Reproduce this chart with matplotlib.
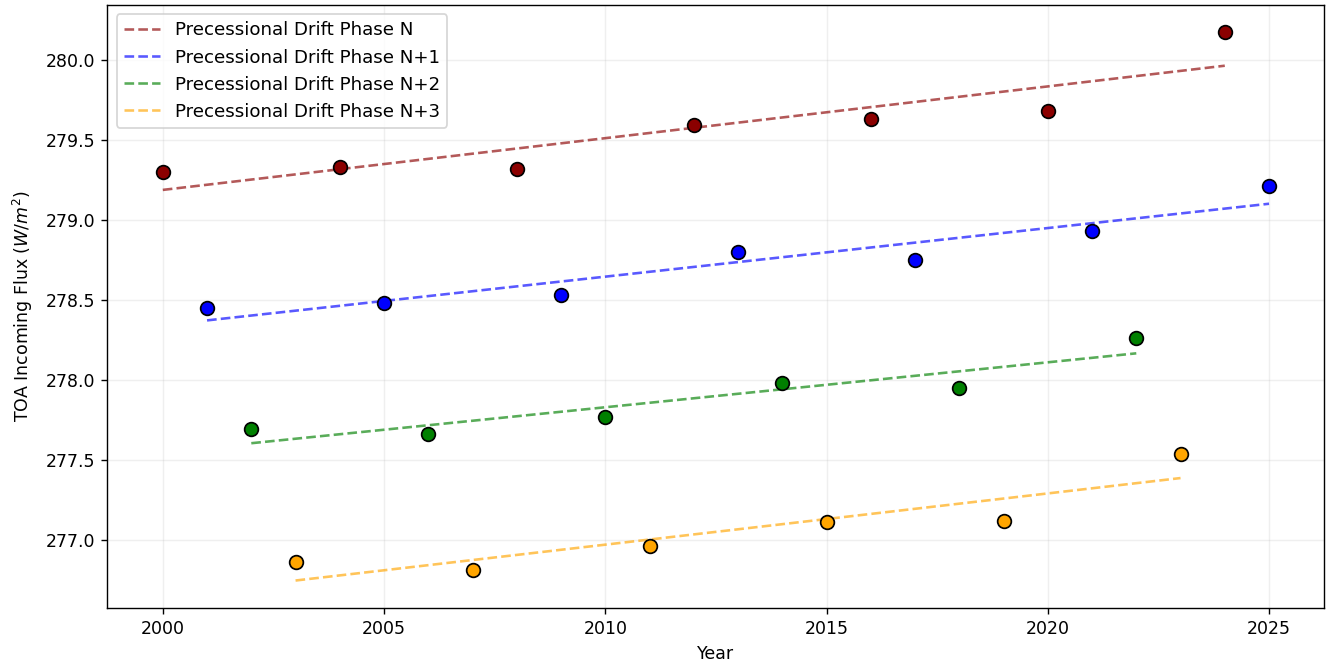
import numpy as np
import matplotlib
matplotlib.use('Agg')
import matplotlib.pyplot as plt

# phases: year, flux
years_n = [2000, 2004, 2008, 2012, 2016, 2020, 2024]
flux_n = [279.30, 279.33, 279.32, 279.59, 279.63, 279.68, 280.17]

years_n1 = [2001, 2005, 2009, 2013, 2017, 2021, 2025]
flux_n1 = [278.45, 278.48, 278.53, 278.80, 278.75, 278.93, 279.21]

years_n2 = [2002, 2006, 2010, 2014, 2018, 2022]
flux_n2 = [277.69, 277.66, 277.77, 277.98, 277.95, 278.26]

years_n3 = [2003, 2007, 2011, 2015, 2019, 2023]
flux_n3 = [276.86, 276.81, 276.96, 277.11, 277.12, 277.54]

labels = ["Precessional Drift Phase N", "Precessional Drift Phase N+1",
          "Precessional Drift Phase N+2", "Precessional Drift Phase N+3"]
colors = ["darkred", "blue", "green", "orange"]

fig, ax = plt.subplots(figsize=(10.616, 5.368), dpi=125)
fig.subplots_adjust(left=0.081, right=0.998, top=0.9925, bottom=0.094)

series = [(years_n, flux_n), (years_n1, flux_n1), (years_n2, flux_n2), (years_n3, flux_n3)]
for (x, y), lab, c in zip(series, labels, colors):
    x = np.array(x)
    y = np.array(y)
    ax.scatter(x, y, color=c, edgecolor='black', s=62, zorder=3)
    # linear trend per phase
    k, b = np.polyfit(x, y, 1)
    ax.plot(x, k * x + b, linestyle='--', color=c, alpha=0.65, linewidth=1.5, label=lab)

ax.set_xlabel("Year")
ax.set_ylabel("TOA Incoming Flux ($W/m^2$)", labelpad=6)
ax.legend(loc='upper left', fontsize=10.5)
ax.grid(True, alpha=0.2)

plt.savefig("out.png", dpi=125)
